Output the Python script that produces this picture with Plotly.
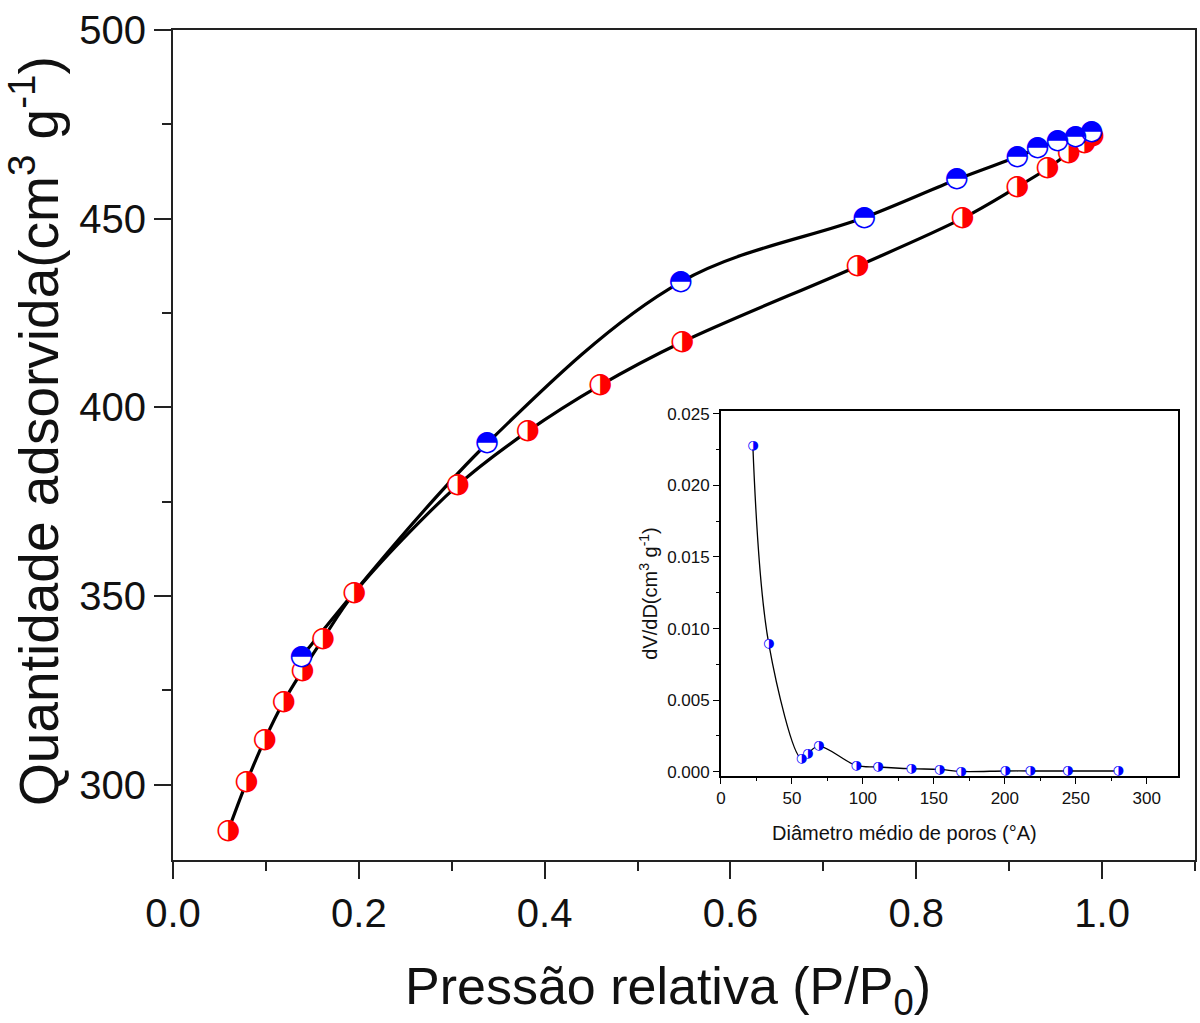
import plotly.graph_objects as go

# N2 isotherm: adsorption branch
ads_p = [0.0594, 0.0791, 0.0988, 0.1192, 0.1393, 0.1615, 0.195, 0.3064, 0.3817,
         0.4597, 0.5481, 0.7368, 0.8496, 0.9087, 0.9413, 0.964, 0.981, 0.990]
ads_v = [287.8, 300.6, 311.9, 322.0, 330.2, 338.6, 350.7, 379.3, 393.6,
         405.8, 417.3, 437.4, 450.05, 458.4, 463.3, 467.3, 470.0, 472.0]

# desorption branch
des_p = [0.1382, 0.338, 0.5464, 0.744, 0.8435, 0.9087, 0.9305, 0.952, 0.9713, 0.9885]
des_v = [333.8, 390.4, 433.2, 450.3, 460.4, 466.4, 468.6, 470.6, 471.7, 473.0]

# pore size distribution (inset)
pore_d = [22.5, 33.7, 56.7, 61.1, 68.9, 95.3, 110.6, 134.0, 154.0, 169.0,
          200.2, 217.9, 244.3, 279.9]
pore_dvdd = [0.0228, 0.00895, 0.00091, 0.00126, 0.00179, 0.00044, 0.00033,
             0.00021, 0.00016, 0.00002, 0.00005, 0.00005, 0.00005, 0.00005]

main_xticks = [0.0, 0.2, 0.4, 0.6, 0.8, 1.0]
main_yticks = [300, 350, 400, 450, 500]
inset_xticks = [0, 50, 100, 150, 200, 250, 300]
inset_yticks = [0.000, 0.005, 0.010, 0.015, 0.020, 0.025]

RED = "#ff0000"
BLUE = "#0000ff"
INK = "#111111"
FONT = "Liberation Sans, Arial, sans-serif"
GLYPH_FONT = "DejaVu Sans"

fig = go.Figure()

# fitted curves
fig.add_trace(go.Scatter(x=ads_p, y=ads_v, mode="lines",
                         line=dict(color="black", width=3.2, shape="spline", smoothing=1.0),
                         hoverinfo="skip", showlegend=False))
fig.add_trace(go.Scatter(x=des_p, y=des_v, mode="lines",
                         line=dict(color="black", width=3.2, shape="spline", smoothing=1.0),
                         hoverinfo="skip", showlegend=False))

# half-filled circle symbols: white disc underneath, glyph on top
fig.add_trace(go.Scatter(x=ads_p, y=ads_v, mode="markers+text",
                         marker=dict(symbol="circle", size=20, color="white", line=dict(width=0)),
                         text=["\u25d1"] * len(ads_p), textposition="middle center",
                         textfont=dict(family=GLYPH_FONT, size=28, color=RED, weight="bold"),
                         name="Adsorção", showlegend=False))
fig.add_trace(go.Scatter(x=des_p, y=des_v, mode="markers+text",
                         marker=dict(symbol="circle", size=20, color="white", line=dict(width=0)),
                         text=["\u25d3"] * len(des_p), textposition="middle center",
                         textfont=dict(family=GLYPH_FONT, size=28, color=BLUE, weight="bold"),
                         name="Dessorção", showlegend=False))

# inset: pore size distribution
fig.add_trace(go.Scatter(x=pore_d, y=pore_dvdd, mode="lines", xaxis="x2", yaxis="y2",
                         line=dict(color="black", width=1.3, shape="spline", smoothing=1.0),
                         hoverinfo="skip", showlegend=False))
fig.add_trace(go.Scatter(x=pore_d, y=pore_dvdd, mode="markers+text", xaxis="x2", yaxis="y2",
                         marker=dict(symbol="circle", size=8, color="white", line=dict(width=0)),
                         text=["\u25d1"] * len(pore_d), textposition="middle center",
                         textfont=dict(family=GLYPH_FONT, size=13, color=BLUE, weight="bold"),
                         showlegend=False))

axis_common = dict(showline=True, linecolor="#222222", mirror=True, showgrid=False,
                   zeroline=False, ticks="outside", tickcolor="#222222")

fig.update_layout(
    width=1200, height=1023,
    margin=dict(l=173, r=3, t=30, b=163),
    paper_bgcolor="white", plot_bgcolor="white",
    font=dict(family=FONT, color=INK),
    xaxis=dict(axis_common, domain=[0, 1], range=[0, 1.1], linewidth=2,
               tickvals=main_xticks, ticktext=[f"{v:.1f}" for v in main_xticks],
               ticklen=17, tickwidth=2,
               minor=dict(ticks="outside", ticklen=9, tickwidth=2, dtick=0.1, tick0=0,
                          tickcolor="#222222"),
               tickfont=dict(size=40, family=FONT, color=INK)),
    yaxis=dict(axis_common, domain=[0, 1], range=[280, 500], linewidth=2,
               tickvals=main_yticks, ticklen=17, tickwidth=2,
               minor=dict(ticks="outside", ticklen=9, tickwidth=2, dtick=25, tick0=0,
                          tickcolor="#222222"),
               tickfont=dict(size=40, family=FONT, color=INK)),
    xaxis2=dict(axis_common, domain=[0.5361, 0.9834], anchor="y2", range=[0, 322],
                linewidth=1.6, linecolor="black",
                tickvals=inset_xticks, ticklen=6, tickwidth=1.4, tickcolor="black",
                minor=dict(ticks="outside", ticklen=3, tickwidth=1.2, dtick=25, tick0=0,
                           tickcolor="black"),
                tickfont=dict(size=17, family=FONT, color=INK)),
    yaxis2=dict(axis_common, domain=[0.1012, 0.5410], anchor="x2", range=[-0.0003, 0.0252],
                linewidth=1.6, linecolor="black",
                tickvals=inset_yticks, ticktext=[f"{v:.3f}" for v in inset_yticks],
                ticklen=6, tickwidth=1.4, tickcolor="black",
                minor=dict(ticks="outside", ticklen=3, tickwidth=1.2, dtick=0.0025, tick0=0,
                           tickcolor="black"),
                tickfont=dict(size=17, family=FONT, color=INK),
                title=dict(text="dV/dD(cm<sup>3</sup> g<sup>-1</sup>)",
                           font=dict(size=20, family=FONT, color=INK), standoff=4)),
    annotations=[
        dict(text="Pressão relativa (P/P<sub>0</sub>)", xref="paper", yref="paper",
             x=0.484, y=-0.157, xanchor="center", yanchor="middle", showarrow=False,
             font=dict(size=52, family=FONT, color=INK)),
        dict(text="Quantidade adsorvida(cm<sup>3</sup> g<sup>-1</sup>)", xref="paper",
             yref="paper", x=-0.135, y=0.517, xanchor="center", yanchor="middle",
             textangle=-90, showarrow=False, font=dict(size=55, family=FONT, color=INK)),
        dict(text="Diâmetro médio de poros (°A)", xref="paper", yref="paper",
             x=0.716, y=0.0325, xanchor="center", yanchor="middle", showarrow=False,
             font=dict(size=20, family=FONT, color=INK)),
    ],
)

fig.write_html("out.html")
